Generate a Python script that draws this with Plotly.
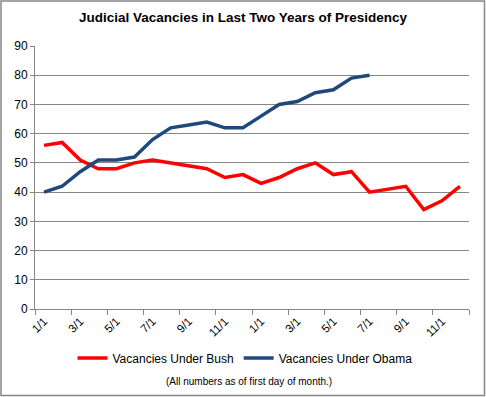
import plotly.graph_objects as go

months = ["1/1", "2/1", "3/1", "4/1", "5/1", "6/1", "7/1", "8/1", "9/1", "10/1", "11/1", "12/1"]
categories = months + months
bush = [56, 57, 51, 48, 48, 50, 51, 50, 49, 48, 45, 46,
        43, 45, 48, 50, 46, 47, 40, 41, 42, 34, 37, 42]
obama = [40, 42, 47, 51, 51, 52, 58, 62, 63, 64, 62, 62,
         66, 70, 71, 74, 75, 79, 80]

idx_b = list(range(len(bush)))
idx_o = list(range(len(obama)))

W, H = 486, 397
L, R, T, B = 35, 17, 46, 88
pw, ph = W - L - R, H - T - B

def px(x):
    return (x - L) / pw

def py(y):
    return (H - B - y) / ph

fig = go.Figure()
fig.add_trace(go.Scatter(x=idx_b, y=bush, mode="lines", name="Vacancies Under Bush",
                         line=dict(color="#FF0000", width=3.5)))
fig.add_trace(go.Scatter(x=idx_o, y=obama, mode="lines", name="Vacancies Under Obama",
                         line=dict(color="#1F497D", width=3.5)))

font = "Liberation Sans, Arial, sans-serif"
fig.update_layout(
    width=W, height=H,
    margin=dict(l=L, r=R, t=T, b=B),
    paper_bgcolor="white", plot_bgcolor="white",
    font=dict(family=font, size=12, color="black"),
    title=dict(text="<b>Judicial Vacancies in Last Two Years of Presidency</b>",
               x=0.5, xanchor="center", y=1 - 17 / H, yanchor="middle",
               font=dict(size=13.5, family=font, color="black")),
    showlegend=True,
    legend=dict(orientation="h", x=px(245), xanchor="center", y=py(358), yanchor="middle",
                font=dict(size=12), itemwidth=30, bgcolor="rgba(0,0,0,0)"),
    xaxis=dict(range=[-0.5, len(categories) - 0.5], tickmode="array",
               tickvals=list(range(0, len(categories), 2)),
               ticktext=categories[0::2], tickangle=-45, ticks="",
               showgrid=False, zeroline=False, showline=True, linecolor="#868686", linewidth=1,
               tickfont=dict(size=11.5),
               minor=dict(tickmode="array", tickvals=[i - 0.5 for i in range(0, len(categories) + 1, 2)],
                          ticks="outside", ticklen=5, tickcolor="#868686", showgrid=False)),
    yaxis=dict(range=[0, 90], dtick=10, tick0=0, showgrid=True, gridcolor="#868686", gridwidth=1,
               zeroline=False, showline=True, linecolor="#868686", linewidth=1,
               ticks="outside", ticklen=4, tickcolor="#868686", tickfont=dict(size=12)),
)

fig.add_shape(type="rect", xref="paper", yref="paper",
              x0=px(1), x1=px(484.5), y0=py(395.5), y1=py(1),
              line=dict(color="#868686", width=1.5), fillcolor="rgba(0,0,0,0)", layer="below")

fig.add_annotation(text="(All numbers as of first day of month.)", xref="paper", yref="paper",
                   x=px(249), y=py(381), xanchor="center", yanchor="middle", showarrow=False,
                   font=dict(size=10, family=font, color="black"))

fig.write_html("out.html", config={"displayModeBar": False},
               post_script="document.body.style.margin='0';document.body.style.overflow='hidden';")
